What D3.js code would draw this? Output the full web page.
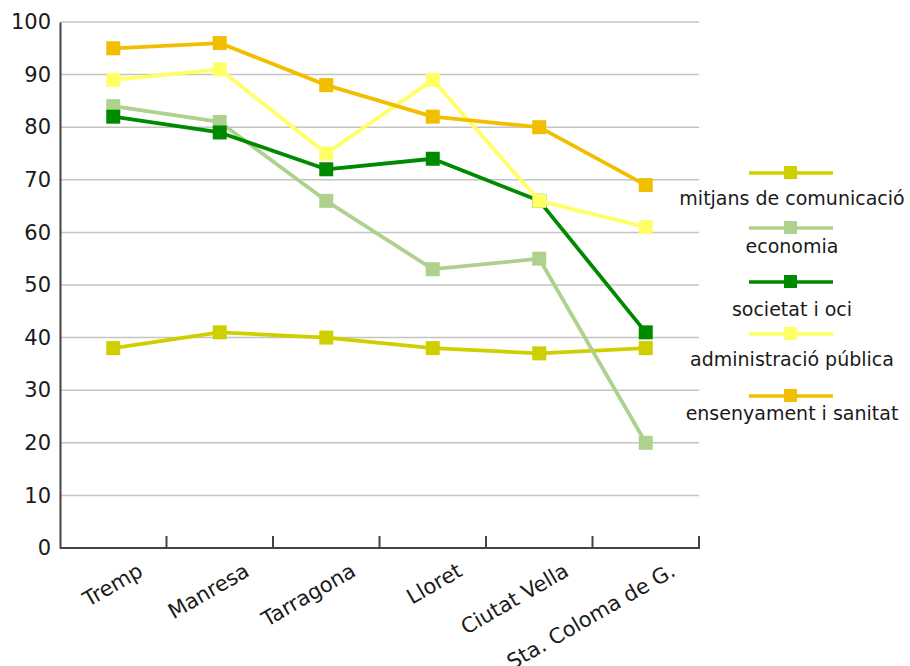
<!DOCTYPE html>
<html><head><meta charset="utf-8">
<script src="https://cdn.jsdelivr.net/npm/d3@7"></script>
<style>body{margin:0;background:#fff}svg{display:block}text{font-family:"DejaVu Sans",Verdana,sans-serif;fill:#1a1a1a}</style>
</head><body>
<script>
const categories = ["Tremp","Manresa","Tarragona","Lloret","Ciutat Vella","Sta. Coloma de G."];
const seriesNames = ["mitjans de comunicació","economia","societat i oci","administració pública","ensenyament i sanitat"];
const mitjans = [38,41,40,38,37,38];
const economia = [84,81,66,53,55,20];
const societat = [82,79,72,74,66,41];
const administracio = [89,91,75,89,66,61];
const ensenyament = [95,96,88,82,80,69];
const yTicks = [0,10,20,30,40,50,60,70,80,90,100];
const colors = ["#cfcf00","#afd18e","#008a00","#ffff66","#f2be00"];
const seriesValues = [mitjans,economia,societat,administracio,ensenyament];

const W=910,H=666;
const svg=d3.select("body").append("svg").attr("width",W).attr("height",H);
const pLeft=60,pRight=699,pTop=22,pBottom=548;
const x=d3.scaleBand().domain(categories).range([pLeft,pRight]);
const y=d3.scaleLinear().domain([0,100]).range([pBottom,pTop]);

// grid
svg.append("g").selectAll("line").data(yTicks.filter(d=>d>0)).join("line")
  .attr("x1",pLeft).attr("x2",pRight).attr("y1",d=>y(d)).attr("y2",d=>y(d))
  .attr("stroke","#c4c4c4").attr("stroke-width",1.5);

// y axis
const ya=svg.append("g").attr("transform",`translate(${pLeft},0)`)
  .call(d3.axisLeft(y).tickValues(yTicks).tickSize(0).tickPadding(9));
ya.select(".domain").attr("stroke","#444").attr("stroke-width",2);
ya.selectAll("text").style("font-size","21px").attr("fill","#1a1a1a").attr("font-family",null);

// x axis
const xa=svg.append("g").attr("transform",`translate(0,${pBottom})`);
xa.append("line").attr("x1",pLeft).attr("x2",pRight+1).attr("stroke","#444").attr("stroke-width",2);
xa.selectAll("line.t").data(categories).join("line").attr("class","t")
  .attr("x1",d=>x(d)+x.bandwidth()).attr("x2",d=>x(d)+x.bandwidth())
  .attr("y1",0).attr("y2",-12).attr("stroke","#444").attr("stroke-width",2);
xa.selectAll("text").data(categories).join("text")
  .attr("text-anchor","end")
  .attr("transform",d=>`translate(${x(d)+x.bandwidth()/2+31},${27}) rotate(-30)`)
  .style("font-size","21px").text(d=>d);

// lines
const line=d3.line().x((d,i)=>x(categories[i])+x.bandwidth()/2).y(d=>y(d));
seriesValues.forEach((vals,k)=>{
  const g=svg.append("g");
  g.append("path").datum(vals).attr("d",line).attr("fill","none")
    .attr("stroke",colors[k]).attr("stroke-width",3.8).attr("stroke-linejoin","round");
  g.selectAll("rect").data(vals).join("rect")
    .attr("x",(d,i)=>x(categories[i])+x.bandwidth()/2-7)
    .attr("y",d=>y(d)-7).attr("width",14).attr("height",14).attr("fill",colors[k]);
});

// legend
const legLineY=[173,228,282,334,396];
const legTextY=[205,253,316,366,420];
const lg=svg.append("g");
seriesNames.forEach((n,k)=>{
  lg.append("line").attr("x1",749).attr("x2",833).attr("y1",legLineY[k]).attr("y2",legLineY[k])
    .attr("stroke",colors[k]).attr("stroke-width",3.5);
  lg.append("rect").attr("x",784).attr("y",legLineY[k]-7).attr("width",13).attr("height",13).attr("fill",colors[k]);
  const t=lg.append("text").attr("x",792).attr("y",legTextY[k]).attr("text-anchor","middle")
    .style("font-size","19px").text(n);
  const bb=t.node().getBBox();
  if(bb.x+bb.width>908){t.attr("text-anchor","end").attr("x",908);}
});
</script>
</body></html>
